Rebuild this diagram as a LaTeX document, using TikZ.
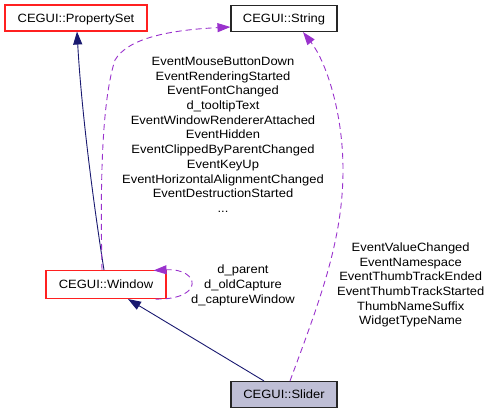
\documentclass[tikz,border=0pt]{standalone}
\usepackage{fontspec}
\setmainfont{Liberation Sans}[FakeStretch=1.08]
\usetikzlibrary{arrows.meta}
\definecolor{edgeblue}{HTML}{191970}
\definecolor{edgepurple}{HTML}{9A32CD}
\definecolor{curfill}{HTML}{BFBFD6}
\definecolor{boxred}{HTML}{FF2020}
\begin{document}
\begin{tikzpicture}[x=1pt,y=-1pt,
  font=\fontsize{12}{14.7}\selectfont,
  cls/.style={draw, line width=1.1pt, inner sep=0pt, text height=8.6pt, text depth=0pt, minimum height=26pt},
  redcls/.style={cls, draw=boxred},
  blkcls/.style={cls, draw=black!85},
  inherit/.style={draw=edgeblue, line width=0.9pt, -{Triangle[length=13pt,width=9pt]}},
  usage/.style={draw=edgepurple, line width=0.9pt, dash pattern=on 6pt off 4pt, -{Triangle[length=13pt,width=9pt]}},
  lbl/.style={align=center, inner sep=0pt}
]
\useasboundingbox (0,0) rectangle (491,413);

\node[redcls, minimum width=142pt, fill=white] (ps) at (76,18) {CEGUI::PropertySet};
\node[blkcls, minimum width=106pt, fill=white] (str) at (284,18.5) {CEGUI::String};
\node[redcls, minimum width=120pt, minimum height=28pt, fill=white] (win) at (106,284.5) {CEGUI::Window};
\node[blkcls, minimum width=106pt, fill=curfill] (sld) at (284,394.5) {CEGUI::Slider};

% inheritance
\draw[inherit] ([xshift=-2pt]win.north) .. controls (96,220) and (82,120) .. ([xshift=1pt]ps.south);
\draw[inherit] ([xshift=-20pt]sld.north) -- ([xshift=22pt]win.south);

% usage
\draw[usage] ([xshift=-4pt]win.north) .. controls (100,180) and (102,100) .. (115,60)
   .. controls (128,38) and (170,30) .. ([yshift=-8.5pt]str.west);
\draw[usage] ([xshift=-11pt]win.south east) .. controls (205,300) and (200,268) .. ([xshift=-13pt,yshift=-0.5pt]win.north east);
\draw[usage] ([xshift=6pt]sld.north) .. controls (320,300) and (343,240) .. (343,170)
   .. controls (343,110) and (325,60) .. ([xshift=19pt]str.south);

% labels
\node[lbl] (l1) at (223,136) {\strut EventMouseButtonDown\\EventRenderingStarted\\EventFontChanged\\d\_tooltipText\\EventWindowRendererAttached\\EventHidden\\EventClippedByParentChanged\\EventKeyUp\\EventHorizontalAlignmentChanged\\EventDestructionStarted\\...\strut};
\node[lbl] (l2) at (243,285.5) {\strut d\_parent\\d\_oldCapture\\d\_captureWindow\strut};
\node[lbl] (l3) at (410.7,285.3) {\strut EventValueChanged\\EventNamespace\\EventThumbTrackEnded\\EventThumbTrackStarted\\ThumbNameSuffix\\WidgetTypeName\strut};
\end{tikzpicture}
\end{document}
